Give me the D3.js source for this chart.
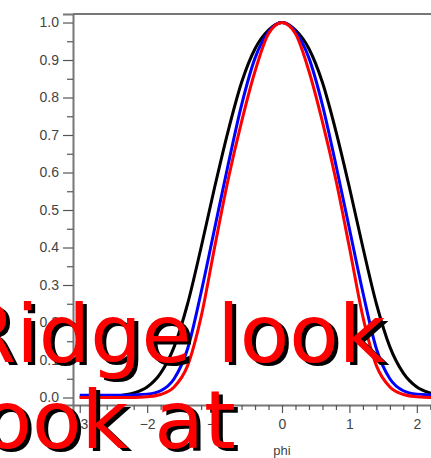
<!DOCTYPE html>
<html>
<head>
<meta charset="utf-8">
<script src="https://cdn.jsdelivr.net/npm/d3@7"></script>
<style>
  html, body { margin: 0; padding: 0; background: #fff; }
  svg { display: block; }
</style>
</head>
<body>
<svg width="431" height="458"></svg>
<script>
// phi sample points and curve values
var phi = [-3.0, -2.8, -2.6, -2.4, -2.2, -2.0, -1.8, -1.6, -1.4, -1.2, -1.0, -0.8, -0.6, -0.4, -0.2, 0.0,
           0.2, 0.4, 0.6, 0.8, 1.0, 1.2, 1.4, 1.6, 1.8, 2.0, 2.2, 2.4, 2.6, 2.8, 3.0];
var blackVals = [0.0, 0.001, 0.002, 0.005, 0.012, 0.028, 0.065, 0.135, 0.25, 0.40, 0.56, 0.71, 0.84, 0.93, 0.98, 1.0,
                 0.98, 0.93, 0.84, 0.71, 0.56, 0.40, 0.25, 0.135, 0.065, 0.028, 0.012, 0.005, 0.002, 0.001, 0.0];
var blueVals = [0.006, 0.006, 0.006, 0.006, 0.007, 0.009, 0.018, 0.05, 0.13, 0.28, 0.45, 0.62, 0.78, 0.905, 0.975, 1.0,
                0.975, 0.905, 0.78, 0.62, 0.45, 0.28, 0.13, 0.05, 0.018, 0.009, 0.007, 0.006, 0.006, 0.006, 0.006];
var redVals = [0.0, 0.0, 0.0, 0.0, 0.0, 0.002, 0.008, 0.028, 0.085, 0.215, 0.40, 0.58, 0.735, 0.87, 0.97, 1.0,
               0.97, 0.87, 0.735, 0.58, 0.40, 0.215, 0.085, 0.028, 0.008, 0.002, 0.0, 0.0, 0.0, 0.0, 0.0];
var yTickVals = [0.0, 0.1, 0.2, 0.3, 0.4, 0.5, 0.6, 0.7, 0.8, 0.9, 1.0];
var xTickVals = [-3, -2, -1, 0, 1, 2, 3];
var overlayLines = ["Ridge look", "look at"];

window.onload = function(){
  var svg = d3.select("svg");
  var left = 73, top = 14, bottom = 405, right = 491;

  var x = d3.scaleLinear().domain([-3.1, 3.1]).range([left, right]);
  var y = d3.scaleLinear().domain([-0.02, 1.0227]).range([bottom, top]);

  var axisColor = "#777";
  var labelFont = "'Liberation Sans', Arial, sans-serif";

  // y axis: major ticks with labels, minor ticks in between
  var yAxis = d3.axisLeft(y).tickValues(yTickVals).tickSize(10).tickPadding(4)
    .tickFormat(d3.format(".1f"));
  var yMinor = d3.axisLeft(y).tickValues(d3.range(0.05, 1.0, 0.1)).tickSize(6).tickFormat("");

  svg.append("g").attr("transform", "translate(" + left + ",0)").call(yAxis);
  svg.append("g").attr("transform", "translate(" + left + ",0)").call(yMinor)
    .select(".domain").remove();

  // x axis
  var xAxis = d3.axisBottom(x).tickValues(xTickVals).tickSize(8).tickPadding(6)
    .tickFormat(function(d){ return d < 0 ? "\u2212" + Math.abs(d) : d; });
  var xMinor = d3.axisBottom(x).tickValues(d3.range(-3, 3.01, 0.2).filter(function(v){
      return Math.abs(v - Math.round(v)) > 0.01; })).tickSize(5).tickFormat("");

  svg.append("g").attr("transform", "translate(0," + bottom + ")").call(xAxis);
  svg.append("g").attr("transform", "translate(0," + bottom + ")").call(xMinor)
    .select(".domain").remove();

  svg.selectAll(".domain").attr("stroke", axisColor).attr("stroke-width", 2);
  svg.selectAll(".tick line").attr("stroke", "#555").attr("stroke-width", 1.2);
  svg.selectAll(".tick text").attr("fill", "#444").style("font-family", labelFont).style("font-size", "14px");

  // top border
  svg.append("line").attr("x1", left).attr("x2", right).attr("y1", top).attr("y2", top)
    .attr("stroke", axisColor).attr("stroke-width", 2);

  svg.append("text").attr("x", x(0)).attr("y", 455).attr("text-anchor", "middle")
    .attr("fill", "#444").style("font-family", labelFont).style("font-size", "13px").text("phi");

  // curves
  var line = d3.line().x(function(d){ return x(d[0]); }).y(function(d){ return y(d[1]); })
    .curve(d3.curveMonotoneX);
  var series = [
    {vals: blackVals, color: "#000"},
    {vals: blueVals, color: "#00f"},
    {vals: redVals, color: "#f00"}
  ];
  svg.append("g").selectAll("path").data(series).enter().append("path")
    .attr("d", function(s){ return line(phi.map(function(p, i){ return [p, s.vals[i]]; })); })
    .attr("fill", "none").attr("stroke", function(s){ return s.color; })
    .attr("stroke-width", 3);

  // big overlay text with shadow
  var bigFont = "'DejaVu Sans', sans-serif";
  var baselines = [362, 448];
  [["#000", 4, 3], ["#f00", 0, 0]].forEach(function(st){
    svg.append("g").selectAll("text").data(overlayLines).enter().append("text")
      .attr("x", -40 + st[1]).attr("y", function(d, i){ return baselines[i] + st[2]; })
      .attr("fill", st[0]).style("font-family", bigFont).style("font-size", "81px")
      .text(function(d){ return d; });
  });
};
</script>
</body>
</html>
